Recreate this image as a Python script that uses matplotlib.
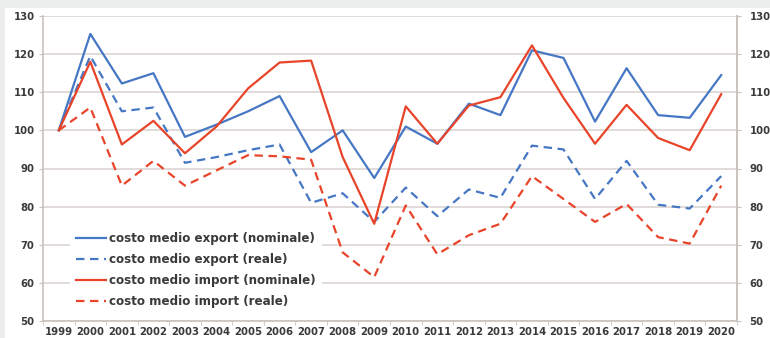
import matplotlib
matplotlib.use("Agg")
import matplotlib.pyplot as plt
from matplotlib.patches import Rectangle

years = [str(y) for y in range(1999, 2021)]
export_nominale = [100, 125.3, 112.3, 115, 98.3, 101.5, 105, 109, 94.3, 100, 87.5,
                   101, 96.5, 107, 104, 121, 119, 102.3, 116.3, 104, 103.3, 114.5]
export_reale = [100, 119.5, 105, 106, 91.5, 93, 94.8, 96.3, 81, 83.5, 76,
                85, 77.5, 84.5, 82.3, 96, 95, 82, 92, 80.5, 79.5, 88]
import_nominale = [100, 118, 96.3, 102.5, 94, 101, 111, 117.8, 118.3, 93, 75.5,
                   106.3, 96.5, 106.5, 108.7, 122.3, 108.5, 96.5, 106.7, 98, 94.8, 109.5]
import_reale = [100, 106, 85.5, 92, 85.5, 89.5, 93.5, 93.2, 92.3, 68, 61.5,
                80.3, 67.5, 72.5, 75.5, 88, 82, 76, 80.7, 72, 70.3, 85.5]
labels = ["costo medio export (nominale)", "costo medio export (reale)",
          "costo medio import (nominale)", "costo medio import (reale)"]
yticks = [50, 60, 70, 80, 90, 100, 110, 120, 130]

blue = "#4677c4"
red = "#e8442a"
grid_c = "#dcd6d2"
spine_c = "#c9c1bd"
text_c = "#3a3a3a"

fig = plt.figure(figsize=(7.7, 3.38), dpi=100, facecolor="white")
# light grey border strips
fig.patches.append(Rectangle((0, 1 - 8 / 338), 1, 8 / 338, transform=fig.transFigure,
                             facecolor="#eceeee", edgecolor="none", zorder=0))
fig.patches.append(Rectangle((0, 0), 5 / 770, 1, transform=fig.transFigure,
                             facecolor="#eceeee", edgecolor="none", zorder=0))

ax = fig.add_axes([43 / 770, 1 - 321 / 338, (737 - 43) / 770, (321 - 16) / 338])
x = list(range(len(years)))
dash = (0, (3.8, 2.5))
ax.plot(x, export_nominale, color=blue, lw=1.6, label=labels[0])
ax.plot(x, export_reale, color=blue, lw=1.6, ls=dash, label=labels[1])
ax.plot(x, import_nominale, color=red, lw=1.6, label=labels[2])
ax.plot(x, import_reale, color=red, lw=1.6, ls=dash, label=labels[3])

ax.set_xlim(-0.5, len(years) - 0.5)
ax.set_ylim(50, 130)
ax.set_yticks(yticks)
ax.set_yticklabels([str(v) for v in yticks])
ax.set_xticks(x)
ax.set_xticklabels(years)
ax.set_xticks([i - 0.5 for i in range(len(years) + 1)], minor=True)
ax.tick_params(axis="x", which="major", length=0, pad=4, labelsize=7.3, labelcolor=text_c)
ax.tick_params(axis="x", which="minor", length=3, color=spine_c, direction="out")
ax.tick_params(axis="y", length=3, color=spine_c, labelsize=7.3, labelcolor=text_c, pad=3)
for lab in ax.get_xticklabels() + ax.get_yticklabels():
    lab.set_fontweight("bold")
ax.grid(axis="y", color=grid_c, lw=1.2)
ax.set_axisbelow(True)
ax.spines["top"].set_visible(False)
for s in ["left", "bottom", "right"]:
    ax.spines[s].set_color(spine_c)
    ax.spines[s].set_linewidth(1.2)

ax2 = ax.twinx()
ax2.set_ylim(50, 130)
ax2.set_yticks(yticks)
ax2.set_yticklabels([str(v) for v in yticks])
ax2.tick_params(axis="y", length=3, color=spine_c, labelsize=7.3, labelcolor=text_c, pad=6)
for lab in ax2.get_yticklabels():
    lab.set_fontweight("bold")
for s in ["top", "left", "bottom"]:
    ax2.spines[s].set_visible(False)
ax2.spines["right"].set_color(spine_c)
ax2.spines["right"].set_linewidth(1.2)

leg = ax.legend(loc="lower left", bbox_to_anchor=(0.03, 0.0), frameon=True,
                facecolor="white", edgecolor="none", framealpha=1,
                prop={"size": 8.6, "weight": "bold"}, handlelength=2.5,
                handletextpad=0.25, labelspacing=0.68, borderpad=0.55, fancybox=False)
for t in leg.get_texts():
    t.set_color(text_c)
leg.set_zorder(5)

fig.savefig("out.png", dpi=100, facecolor=fig.get_facecolor())
